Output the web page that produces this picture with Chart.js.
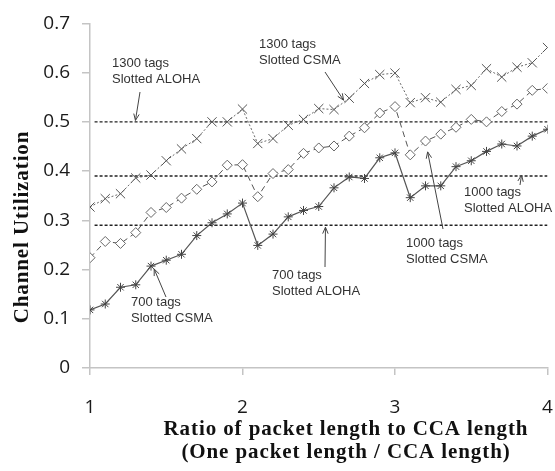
<!DOCTYPE html>
<html lang="en">
<head>
<meta charset="UTF-8">
<title>Channel Utilization</title>
<script src="https://cdn.jsdelivr.net/npm/chart.js"></script>
<style>
  body { margin: 0; background: #fff; }
  #wrap { width: 555px; height: 471px; }
</style>
</head>
<body>
<div id="wrap"><canvas id="grafico" width="555" height="471"></canvas></div>
<script>
// ratio of packet length to CCA length
const ratio = [1.0, 1.1, 1.2, 1.3, 1.4, 1.5, 1.6, 1.7, 1.8, 1.9, 2.0,
               2.1, 2.2, 2.3, 2.4, 2.5, 2.6, 2.7, 2.8, 2.9, 3.0,
               3.1, 3.2, 3.3, 3.4, 3.5, 3.6, 3.7, 3.8, 3.9, 4.0];

// Slotted CSMA curves
const csma1300 = [0.327, 0.344, 0.354, 0.386, 0.392, 0.421, 0.445, 0.466, 0.500, 0.500, 0.526,
                  0.456, 0.466, 0.493, 0.505, 0.527, 0.525, 0.548, 0.578, 0.596, 0.599,
                  0.539, 0.549, 0.540, 0.566, 0.574, 0.608, 0.591, 0.611, 0.620, 0.651];
const csma1000 = [0.224, 0.257, 0.253, 0.275, 0.316, 0.326, 0.345, 0.363, 0.378, 0.412, 0.413,
                  0.348, 0.395, 0.403, 0.436, 0.447, 0.451, 0.471, 0.488, 0.518, 0.531,
                  0.433, 0.461, 0.475, 0.489, 0.505, 0.500, 0.521, 0.536, 0.564, 0.568];
const csma700  = [0.118, 0.130, 0.164, 0.169, 0.207, 0.219, 0.231, 0.269, 0.295, 0.313, 0.335,
                  0.249, 0.272, 0.307, 0.320, 0.328, 0.366, 0.388, 0.385, 0.427, 0.437,
                  0.346, 0.370, 0.370, 0.409, 0.421, 0.440, 0.455, 0.451, 0.471, 0.485];

// Slotted ALOHA levels (1300, 1000, 700 tags) - flat dashed lines
const alohaLevels = [0.5, 0.39, 0.29];
const alohaSpan = [1.03, 4.0];

const xTicks = [1, 2, 3, 4];

const pontos = (ys) => ratio.map((x, i) => ({ x: x, y: ys[i] }));

const datasets = [
  {
    label: '1300 tags Slotted CSMA',
    data: pontos(csma1300),
    borderColor: '#6a6a6a',
    borderWidth: 1,
    borderDash: [2, 2],
    pointStyle: 'crossRot',
    pointRadius: 6.5,
    pointBorderColor: '#555',
    pointBorderWidth: 1
  },
  {
    label: '1000 tags Slotted CSMA',
    data: pontos(csma1000),
    borderColor: '#555',
    borderWidth: 1,
    borderDash: [6, 4],
    pointStyle: 'rectRot',
    pointRadius: 5,
    pointBackgroundColor: '#fff',
    pointBorderColor: '#666',
    pointBorderWidth: 1
  },
  {
    label: '700 tags Slotted CSMA',
    data: pontos(csma700),
    borderColor: '#555',
    borderWidth: 1.2,
    pointStyle: 'star',
    pointRadius: 4.5,
    pointBorderColor: '#444',
    pointBorderWidth: 1
  }
];

alohaLevels.forEach((nivel) => {
  datasets.push({
    label: 'aloha',
    data: alohaSpan.map((x) => ({ x: x, y: nivel })),
    borderColor: '#222',
    borderWidth: 1.4,
    borderDash: [3, 2],
    pointRadius: 0
  });
});

// annotations: text block (left x, first line y), arrow tail in px, arrow tip in data units
const notas = [
  { linhas: ['1300 tags', 'Slotted ALOHA'], x: 112, y: 63, de: [140, 92], para: [1.298, 0.503] },
  { linhas: ['1300 tags', 'Slotted CSMA'], x: 259, y: 44, de: [325, 72], para: [2.663, 0.544] },
  { linhas: ['700 tags', 'Slotted CSMA'], x: 131, y: 302, de: [166, 297], para: [1.421, 0.201] },
  { linhas: ['700 tags', 'Slotted ALOHA'], x: 272, y: 275, de: [325, 267], para: [2.544, 0.286] },
  { linhas: ['1000 tags', 'Slotted CSMA'], x: 406, y: 243, de: [443, 229], para: [3.214, 0.439] },
  { linhas: ['1000 tags', 'Slotted ALOHA'], x: 464, y: 192, de: [520, 185], para: [3.83, 0.392] }
];

const extras = {
  id: 'extras',
  afterDraw(chart) {
    const ctx = chart.ctx;
    const sx = chart.scales.x;
    const sy = chart.scales.y;
    ctx.save();

    // x tick labels (drawn here so the last one can run off the edge)
    ctx.font = '19px "Open Sans"';
    ctx.fillStyle = '#1a1a1a';
    ctx.textAlign = 'center';
    ctx.textBaseline = 'middle';
    xTicks.forEach((t) => ctx.fillText(String(t), sx.getPixelForValue(t), 408));

    // axis titles
    ctx.font = 'bold 21px "Liberation Serif"';
    ctx.letterSpacing = '0.9px';
    ctx.fillStyle = '#111';
    ctx.fillText('Ratio of packet length to CCA length', 346, 430);
    ctx.fillText('(One packet length / CCA length)', 346, 453);
    ctx.save();
    ctx.translate(23, 227);
    ctx.rotate(-Math.PI / 2);
    ctx.fillText('Channel Utilization', 0, 0);
    ctx.restore();
    ctx.letterSpacing = '0px';

    // annotations with arrows
    ctx.font = '13px "Liberation Sans"';
    ctx.fillStyle = '#333';
    ctx.textAlign = 'left';
    ctx.strokeStyle = '#444';
    ctx.lineWidth = 1;
    notas.forEach((n) => {
      n.linhas.forEach((l, i) => ctx.fillText(l, n.x, n.y + i * 16.5));
      const tx = sx.getPixelForValue(n.para[0]);
      const ty = sy.getPixelForValue(n.para[1]);
      const ang = Math.atan2(ty - n.de[1], tx - n.de[0]);
      ctx.beginPath();
      ctx.moveTo(n.de[0], n.de[1]);
      ctx.lineTo(tx, ty);
      ctx.moveTo(tx - 7 * Math.cos(ang - 0.4), ty - 7 * Math.sin(ang - 0.4));
      ctx.lineTo(tx, ty);
      ctx.lineTo(tx - 7 * Math.cos(ang + 0.4), ty - 7 * Math.sin(ang + 0.4));
      ctx.stroke();
    });
    ctx.restore();
  }
};

new Chart(document.getElementById('grafico'), {
  type: 'line',
  data: { datasets: datasets },
  options: {
    responsive: false,
    animation: false,
    devicePixelRatio: 1,
    layout: { padding: { top: 17, right: 2, left: 0, bottom: 0 } },
    plugins: { legend: { display: false }, tooltip: { enabled: false } },
    scales: {
      x: {
        type: 'linear',
        min: 1,
        max: 4,
        ticks: { display: false, stepSize: 1 },
        grid: { drawOnChartArea: false, tickLength: 7, color: '#c4c4c4', lineWidth: 1.5 },
        border: { color: '#c4c4c4', width: 1.5 },
        afterFit(scale) { scale.height = 103; }
      },
      y: {
        min: 0,
        max: 0.7,
        ticks: {
          stepSize: 0.1,
          padding: 12,
          color: '#1a1a1a',
          font: { family: 'Open Sans', size: 19 },
          callback: (v) => String(+v.toFixed(1))
        },
        grid: { drawOnChartArea: false, tickLength: 8, color: '#c4c4c4', lineWidth: 1.5 },
        border: { color: '#c4c4c4', width: 1.5 },
        afterFit(scale) { scale.width = 90; }
      }
    }
  },
  plugins: [extras]
});
</script>
</body>
</html>
